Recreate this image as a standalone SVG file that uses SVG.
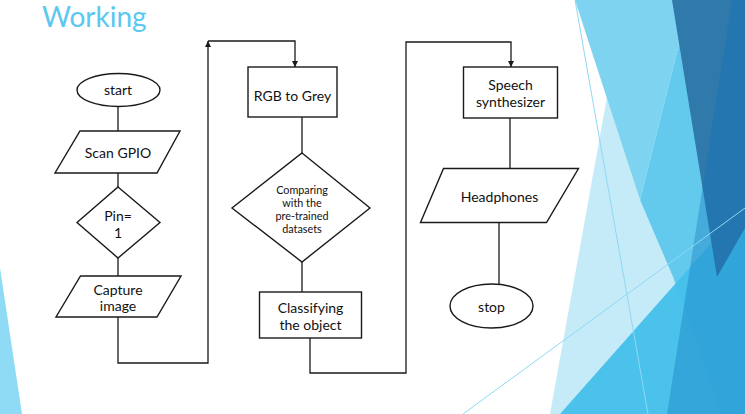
<svg xmlns="http://www.w3.org/2000/svg" width="745" height="414" viewBox="0 0 745 414">
<defs>
<style>
.shape{fill:#fff;stroke:#1a1a1a;stroke-width:1.4}
.conn{fill:none;stroke:#1a1a1a;stroke-width:1.3}
.t{font-family:Lato,"Open Sans","Liberation Sans",sans-serif;font-size:14px;fill:#111;text-anchor:middle;dominant-baseline:central}
.ts{font-size:10.8px}
.deco-line{fill:none;stroke:#8FD8F3;stroke-width:1}
</style>
<marker id="arr" viewBox="0 0 10 10" refX="10" refY="5" markerUnits="userSpaceOnUse" markerWidth="6" markerHeight="6" orient="auto">
<path d="M0,0 L10,5 L0,10 Z" fill="#1a1a1a"/>
</marker>
</defs>
<rect width="745" height="414" fill="#fff"/>
<g id="decoration">
<polygon points="0,268 22,414 0,414" fill="#8FDBF5"/>
<polygon points="607,97 640,200 673,277 721,414 550,414" fill="#C5EBF8"/>
<polygon points="575,0 690,0 640,200" fill="#7DD3F0"/>
<polygon points="690,0 745,0 745,414 721,414 673,277 640,200" fill="#63CAEE"/>
<polygon points="560,414 745,205 745,414" fill="#45C0EA" opacity="0.95"/>
<polygon points="672,0 745,0 745,228 717,277" fill="#3079AB"/>
<polygon points="732,0 745,0 745,414 667,414" fill="#0B74B8" opacity="0.35"/>
<line class="deco-line" x1="575" y1="0" x2="648" y2="414"/>
<line class="deco-line" x1="463" y1="414" x2="745" y2="208"/>
</g>
<text x="42" y="27" font-family="Lato,'Open Sans','Liberation Sans',sans-serif" font-size="28" fill="#5AC8EF">Working</text>
<g id="connectors">
<line class="conn" x1="118" y1="107" x2="118" y2="131"/>
<line class="conn" x1="118" y1="173" x2="118" y2="187"/>
<line class="conn" x1="118" y1="258" x2="118" y2="276"/>
<path class="conn" d="M118,317 V363 H208 V41" marker-end="url(#arr)"/>
<path class="conn" d="M208,41 H295 V67" marker-end="url(#arr)"/>
<line class="conn" x1="302" y1="117" x2="302" y2="153"/>
<line class="conn" x1="302" y1="262" x2="302" y2="292"/>
<path class="conn" d="M310,338 V373 H406 V42 H511 V67" marker-end="url(#arr)"/>
<line class="conn" x1="510" y1="118" x2="510" y2="168"/>
<line class="conn" x1="499" y1="223" x2="499" y2="284"/>
</g>
<g id="start">
<ellipse class="shape" cx="118.5" cy="90" rx="41.5" ry="16.5"/>
<text class="t" x="118" y="89">start</text>
</g>
<g id="scan-gpio">
<polygon class="shape" points="80,131 180,131 157,173 55,173"/>
<text class="t" x="118" y="152">Scan GPIO</text>
</g>
<g id="pin-decision">
<polygon class="shape" points="118,187 160,222.5 118,258 77,222.5"/>
<text class="t" x="118" y="215">Pin=</text>
<text class="t" x="118" y="232">1</text>
</g>
<g id="capture-image">
<polygon class="shape" points="80.5,276 181,276 157,317 56,317"/>
<text class="t" x="118" y="289">Capture</text>
<text class="t" x="118" y="305">image</text>
</g>
<g id="rgb-to-grey">
<rect class="shape" x="248" y="67" width="89" height="50"/>
<text class="t" x="292.5" y="95">RGB to Grey</text>
</g>
<g id="comparing">
<polygon class="shape" points="302,153 370,208 302,262 232,208"/>
<text class="t ts" x="302" y="189">Comparing</text>
<text class="t ts" x="302" y="202">with the</text>
<text class="t ts" x="302" y="215">pre-trained</text>
<text class="t ts" x="302" y="228">datasets</text>
</g>
<g id="classifying">
<rect class="shape" x="259.5" y="292" width="102" height="46"/>
<text class="t" x="310.5" y="307">Classifying</text>
<text class="t" x="310.5" y="324">the object</text>
</g>
<g id="speech-synthesizer">
<rect class="shape" x="463.5" y="67" width="94" height="51"/>
<text class="t" x="510.5" y="84">Speech</text>
<text class="t" x="510.5" y="101">synthesizer</text>
</g>
<g id="headphones">
<polygon class="shape" points="443.5,168.5 578.5,168.5 546.5,222.5 420.5,222.5"/>
<text class="t" x="499.5" y="196">Headphones</text>
</g>
<g id="stop">
<ellipse class="shape" cx="491.5" cy="306" rx="41.5" ry="22"/>
<text class="t" x="491.5" y="306">stop</text>
</g>
</svg>
